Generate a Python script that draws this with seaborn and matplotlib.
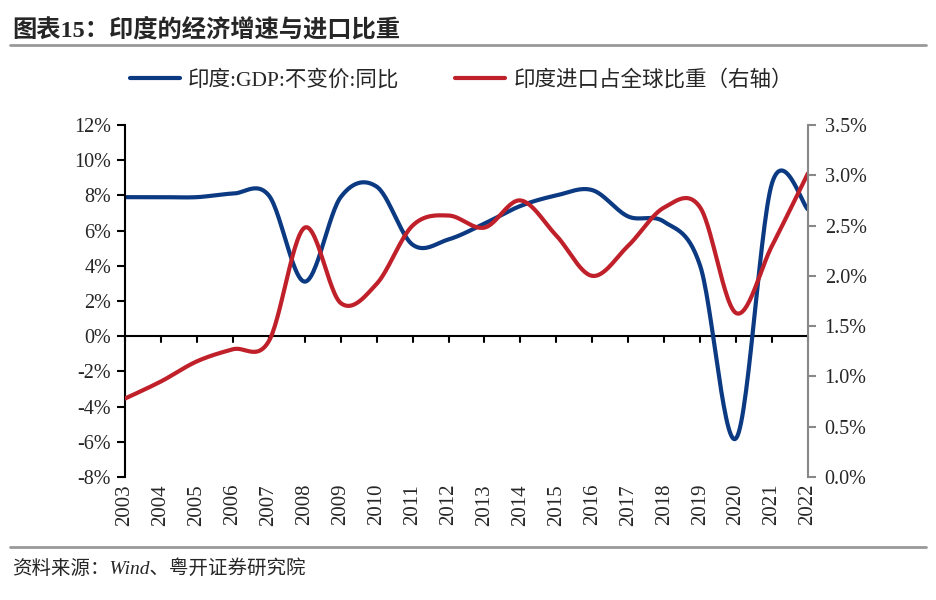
import numpy as np
import pandas as pd
import matplotlib
matplotlib.use('Agg')
import matplotlib.pyplot as plt
import seaborn as sns
from matplotlib.ticker import FuncFormatter
from matplotlib.lines import Line2D

sns.set_theme(style='white')
plt.rcParams['font.family'] = ['Liberation Serif', 'Noto Sans CJK SC', 'DejaVu Sans']
plt.rcParams['axes.unicode_minus'] = False

years = list(range(2003, 2023))
gdp_yoy = [7.9, 7.9, 7.9, 8.1, 8.0, 3.1, 7.9, 8.5, 5.2, 5.5,
           6.4, 7.4, 8.0, 8.3, 6.8, 6.5, 4.0, -5.8, 8.7, 7.2]
import_share = [0.78, 0.95, 1.15, 1.27, 1.35, 2.48, 1.73, 1.92, 2.50, 2.60,
                2.48, 2.75, 2.40, 2.00, 2.30, 2.68, 2.68, 1.63, 2.30, 3.02]

gdp_label = '印度:GDP:不变价:同比'
imp_label = '印度进口占全球比重（右轴）'
blue = '#0B3A82'
red = '#C0202A'


def smooth(x, y, n=30):
    # Excel-style smoothed line (Catmull-Rom Bezier through the points)
    x = np.asarray(x, float)
    y = np.asarray(y, float)
    px = np.concatenate([[x[0]], x, [x[-1]]])
    py = np.concatenate([[y[0]], y, [y[-1]]])
    t = np.linspace(0, 1, n)[:, None]
    out_x, out_y = [], []
    for i in range(1, len(px) - 2):
        p0, p1, p2, p3 = [np.array([px[j], py[j]]) for j in (i - 1, i, i + 1, i + 2)]
        c1 = p1 + (p2 - p0) / 6
        c2 = p2 - (p3 - p1) / 6
        b = ((1 - t) ** 3) * p1 + 3 * ((1 - t) ** 2) * t * c1 + 3 * (1 - t) * t ** 2 * c2 + t ** 3 * p2
        out_x.append(b[:, 0])
        out_y.append(b[:, 1])
    return np.concatenate(out_x), np.concatenate(out_y)


fig = plt.figure(figsize=(9.37, 6), dpi=100)
ax = fig.add_axes([125 / 937, 1 - 477 / 600, (808 - 125) / 937, (477 - 125) / 600])
ax2 = ax.twinx()

gx, gy = smooth(years, gdp_yoy)
ix, iy = smooth(years, import_share)
sns.lineplot(x=gx, y=gy, ax=ax, color=blue, lw=3, sort=False, estimator=None)
sns.lineplot(x=ix, y=iy, ax=ax2, color=red, lw=3, sort=False, estimator=None)

ax.set_xlim(2003, 2022)
ax.set_ylim(-8, 12)
ax2.set_ylim(0, 3.5)
ax.set_yticks(np.arange(-8, 13, 2))
ax2.set_yticks(np.arange(0, 3.51, 0.5))
ax.yaxis.set_major_formatter(FuncFormatter(lambda v, p: f'{v:.0f}%'))
ax2.yaxis.set_major_formatter(FuncFormatter(lambda v, p: f'{v:.1f}%'))

# spines: black left axis, grey right axis, x axis line at 0
for a in (ax, ax2):
    for s in a.spines.values():
        s.set_visible(False)
ax.spines['left'].set_visible(True)
ax.spines['left'].set_color('black')
ax.spines['left'].set_linewidth(1.5)
ax2.spines['right'].set_visible(True)
ax2.spines['right'].set_color('#888888')
ax2.spines['right'].set_linewidth(1.5)
ax.axhline(0, color='black', lw=1.5, zorder=1)
for yr in years:
    ax.plot([yr, yr], [0, -0.35], color='black', lw=1.5, clip_on=False)
ax.set_xticks(years)
ax.set_xticklabels([str(y) for y in years], rotation=90, fontsize=15)
ax.tick_params(axis='x', length=0, pad=5)
ax.tick_params(axis='y', left=True, length=6, width=1.5, color='black', labelsize=14.5, pad=4)
ax2.tick_params(axis='y', right=True, length=6, width=1.5, color='#888888', labelsize=14.5, pad=6)
ax.set_xlabel('')
ax.set_ylabel('')
ax2.set_ylabel('')
ax.grid(False)
ax2.grid(False)

# legend
handles = [Line2D([], [], color=blue, lw=3), Line2D([], [], color=red, lw=3)]
fig.legend(handles, [gdp_label, imp_label], loc='center left', bbox_to_anchor=(130 / 937, 1 - 80 / 600),
           ncol=2, frameon=False, borderpad=0, borderaxespad=0, handlelength=2.3, columnspacing=2.6,
           handletextpad=0.4, prop={'family': ['Liberation Serif', 'Noto Sans CJK SC'], 'size': 15.5})

# title and source
fig.text(12 / 937, 1 - 30 / 600, '图表15：印度的经济增速与进口比重', fontsize=17.5, fontweight='bold',
         va='center', ha='left')
fig.add_artist(Line2D([10 / 937, 926 / 937], [1 - 45 / 600, 1 - 45 / 600], color='#999999', lw=2))
fig.add_artist(Line2D([10 / 937, 926 / 937], [1 - 547 / 600, 1 - 547 / 600], color='#999999', lw=2))
fig.text(12 / 937, 1 - 569 / 600, '资料来源：Wind、粤开证券研究院', fontsize=14, style='italic',
         va='center', ha='left')

fig.savefig('out.png', dpi=100)
